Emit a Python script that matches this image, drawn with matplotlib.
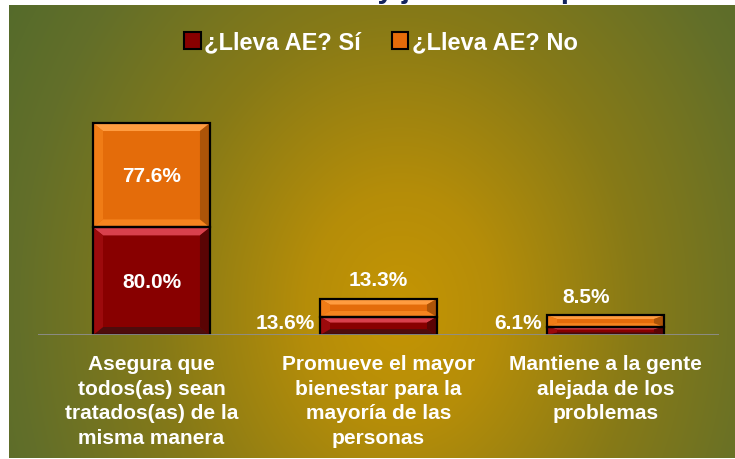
import numpy as np
import matplotlib
matplotlib.use("Agg")
import matplotlib.pyplot as plt
from matplotlib.patches import Polygon, Patch

# ---------------- data ----------------
categories = [
    "Asegura que\ntodos(as) sean\ntratados(as) de la\nmisma manera",
    "Promueve el mayor\nbienestar para la\nmayoría de las\npersonas",
    "Mantiene a la gente\nalejada de los\nproblemas",
]
series_names = ["¿Lleva AE? Sí", "¿Lleva AE? No"]
si_values = [80.0, 13.6, 6.1]
no_values = [77.6, 13.3, 8.5]
title_text = "Gráfica 7. Una ley justa es la que"

plt.rcParams['font.family'] = ['Liberation Sans', 'DejaVu Sans']

W, H = 735, 460
fig = plt.figure(figsize=(W / 100, H / 100), dpi=100, facecolor='white')

# cut-off title at the very top
fig.text(376 / W, 1 + 1.5 / H, title_text, ha='center', va='baseline',
         fontsize=21, fontweight='bold', color='#14245e', zorder=-5)

# ---------------- background gradient panel ----------------
px0, px1, py0, py1 = 9, 735, 6, 459
bg = fig.add_axes([px0 / W, 1 - py1 / H, (px1 - px0) / W, (py1 - py0) / H], zorder=0)
X, Y = np.meshgrid(np.arange(px0, px1) + 0.5, np.arange(py0, py1) + 0.5)
r = np.sqrt(((X - 400) / 380.0) ** 2 + ((Y - 310) / 470.0) ** 2)
stops = [0.0, 0.25, 0.62, 1.0, 1.3]
cols = ['#c59503', '#b58d09', '#877a17', '#636f29', '#4f692c']
rgb = np.array([matplotlib.colors.to_rgb(c) for c in cols])
img = np.stack([np.interp(r, stops, rgb[:, k]) for k in range(3)], axis=-1)
bg.imshow(img, aspect='auto', extent=[0, 1, 0, 1], origin='upper', interpolation='bilinear')
bg.set_axis_off()

# ---------------- main axes ----------------
base_px = 336
ppu = 1.345
ymax = 180
ax = fig.add_axes([38 / W, (H - base_px) / H, (719 - 38) / W, ymax * ppu / H], zorder=1)
ax.patch.set_alpha(0)
ax.set_xlim(-0.5, 2.5)
ax.set_ylim(0, ymax)
for s in ax.spines.values():
    s.set_visible(False)
ax.set_yticks([])

x = np.arange(len(categories))
bw = 0.515

si_col = dict(face='#880000', top='#d8404c', left='#9c0a0c', right='#5a0404', bottom='#4e0c0c')
no_col = dict(face='#e46c0a', top='#ff9c40', left='#f07c16', right='#ad5408', bottom='#f5841e')


def bevel(xc, bottom, height, c):
    T = ax.transData
    X0, Y0 = T.transform((xc - bw / 2, bottom))
    X1, Y1 = T.transform((xc + bw / 2, bottom + height))
    bx = min(10.0, (X1 - X0) / 2)
    by = min(8.0, (Y1 - Y0) * 0.32)
    oBL, oBR, oTR, oTL = (X0, Y0), (X1, Y0), (X1, Y1), (X0, Y1)
    iBL, iBR, iTR, iTL = (X0 + bx, Y0 + by), (X1 - bx, Y0 + by), (X1 - bx, Y1 - by), (X0 + bx, Y1 - by)
    Ti = T.inverted()
    polys = [
        ([oBL, oBR, iBR, iBL], c['bottom']),
        ([oTR, oTL, iTL, iTR], c['top']),
        ([oTL, oBL, iBL, iTL], c['left']),
        ([oBR, oTR, iTR, iBR], c['right']),
    ]
    for pts, col in polys:
        ax.add_patch(Polygon(Ti.transform(np.array(pts)), closed=True, facecolor=col,
                             edgecolor='none', zorder=3))


ax.bar(x, si_values, bw, color=si_col['face'], edgecolor='none', zorder=2)
ax.bar(x, no_values, bw, bottom=si_values, color=no_col['face'], edgecolor='none', zorder=2)
for i in range(len(x)):
    bevel(x[i], 0, si_values[i], si_col)
    bevel(x[i], si_values[i], no_values[i], no_col)
ax.bar(x, si_values, bw, fill=False, edgecolor='black', linewidth=1.6, zorder=4)
ax.bar(x, no_values, bw, bottom=si_values, fill=False, edgecolor='black', linewidth=1.6, zorder=4)

ax.axhline(0, color='#8e8e8e', lw=2, zorder=5)

# ---------------- value labels ----------------
lab_kw = dict(color='white', fontsize=15, fontweight='bold', zorder=6)
for i in range(len(x)):
    s, n = si_values[i], no_values[i]
    if s > 40:
        ax.text(x[i], s / 2, f"{s:.1f}%", ha='center', va='center', **lab_kw)
        ax.text(x[i], s + n / 2, f"{n:.1f}%", ha='center', va='center', **lab_kw)
    else:
        ax.annotate(f"{s:.1f}%", xy=(x[i] - bw / 2, 9), xytext=(-5, 0),
                    textcoords='offset pixels', ha='right', va='center', **lab_kw)
        dx = 0 if i == 1 else -19
        ax.annotate(f"{n:.1f}%", xy=(x[i], s + n), xytext=(dx, 19),
                    textcoords='offset pixels', ha='center', va='center', **lab_kw)

# ---------------- category labels ----------------
ax.set_xticks(x)
ax.set_xticklabels(categories, color='white', fontsize=15, fontweight='bold',
                   linespacing=1.36)
ax.tick_params(axis='x', length=0, pad=14)

# ---------------- legend ----------------
handles = [Patch(facecolor=si_col['face'], edgecolor='black', linewidth=1.5),
           Patch(facecolor=no_col['face'], edgecolor='black', linewidth=1.5)]
leg = fig.legend(handles, series_names, loc='center', bbox_to_anchor=(381 / W, 1 - 43 / H),
                 ncol=2, frameon=False, fontsize=17, handlelength=0.7, handleheight=0.7,
                 handletextpad=0.15, columnspacing=1.3, borderpad=0)
for t in leg.get_texts():
    t.set_color('white')
    t.set_fontweight('bold')
leg.set_zorder(10)

fig.savefig('out.png', dpi=100, facecolor='white')
